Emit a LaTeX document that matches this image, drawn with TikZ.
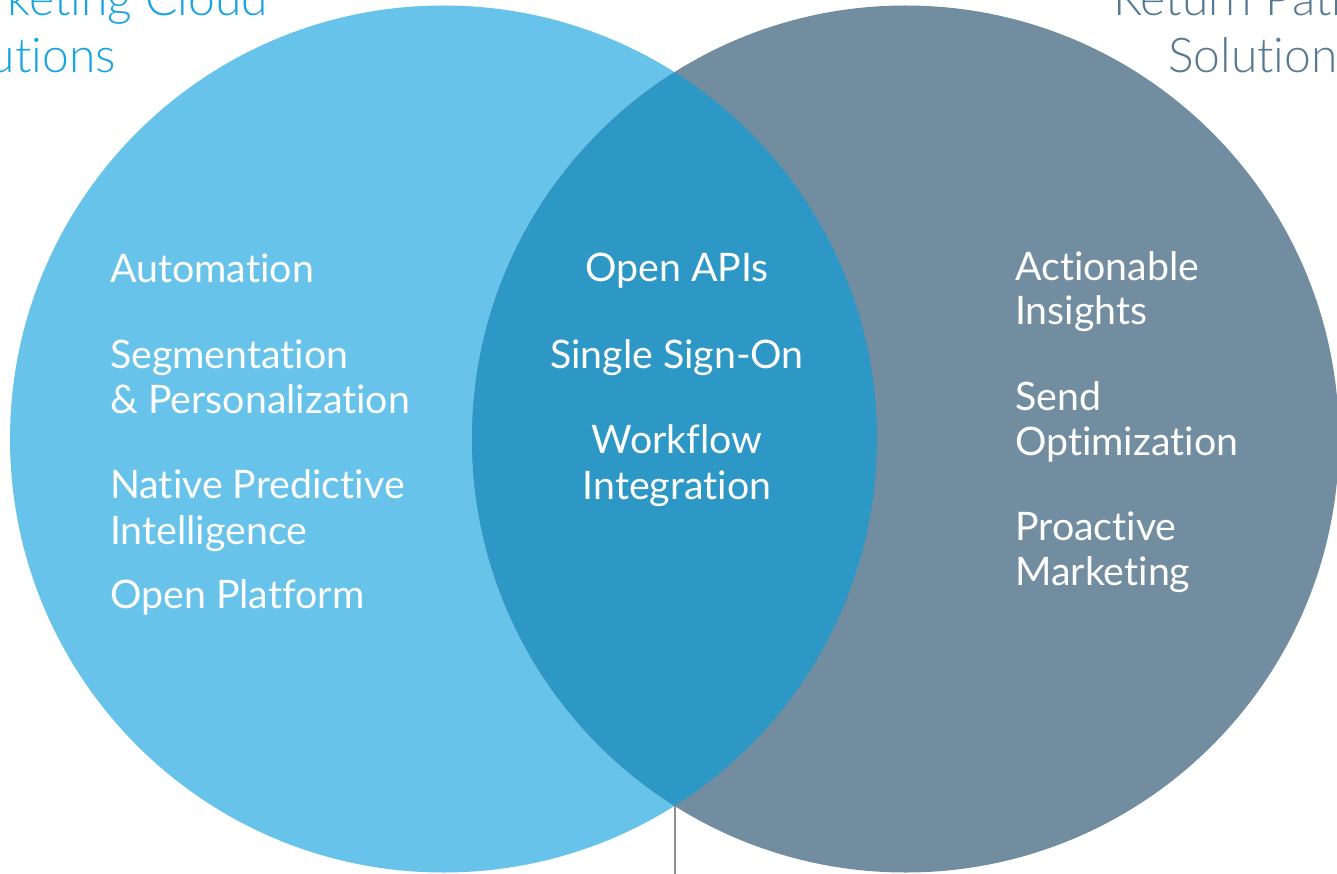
\documentclass[tikz,border=0pt]{standalone}
\usepackage{fontspec}
\setmainfont{Lato}[Ligatures={NoCommon,NoRare}]
\newfontfamily\titlefont{Lato}[UprightFont=* Light,Ligatures={NoCommon,NoRare}]
\begin{document}
\definecolor{mcblue}{HTML}{67C3E9}
\definecolor{lensblue}{HTML}{2D97C5}
\definecolor{rpslate}{HTML}{718D9F}
\definecolor{mctitle}{HTML}{17A4E1}
\definecolor{rptitle}{HTML}{587A91}
\definecolor{stem}{HTML}{8A8F94}
\begin{tikzpicture}[x=1pt,y=-1pt,
  item/.style={anchor=base west,inner sep=0pt,text=white,font=\fontsize{39.3}{45}\selectfont},
  mid/.style={anchor=base,inner sep=0pt,text=white,font=\fontsize{39.3}{45}\selectfont},
  ttl/.style={inner sep=0pt,font=\titlefont\fontsize{48}{57}\selectfont}]
\useasboundingbox (0,0) rectangle (1337,874);
% the two sets
\fill[mcblue] (443.5,439) circle[radius=433.5];
\fill[rpslate] (905.5,439) circle[radius=433.5];
\begin{scope}
  \clip (443.5,439) circle[radius=433.5];
  \fill[lensblue] (905.5,439) circle[radius=433.5];
\end{scope}
% stem below the overlap
\coordinate (lensbot) at (674.5,806);
\coordinate (stemend) at (674.5,874);
\draw[stem,line width=2pt] (lensbot) -- (stemend);
% titles
\node[ttl,anchor=base east,text=mctitle] (mc1) at (268,16) {Marketing Cloud};
\node[ttl,anchor=base east,text=mctitle] (mc2) at (116,73) {Solutions};
\node[ttl,anchor=base west,text=rptitle] (rp1) at (1113,16) {Return Path};
\node[ttl,anchor=base west,text=rptitle] (rp2) at (1168,73) {Solutions};
% left set
\node[item] (l1) at (110,283) {Automation};
\node[item] (l2) at (110,368) {Segmentation};
\node[item] (l3) at (110,413) {\& Personalization};
\node[item] (l4) at (110,498) {Native Predictive};
\node[item] (l5) at (110,544) {Intelligence};
\node[item] (l6) at (110,608) {Open Platform};
% overlap
\node[mid] (m1) at (677,282) {Open APIs};
\node[mid] (m2) at (677,368) {Single Sign-On};
\node[mid] (m3) at (677,453) {Workflow};
\node[mid] (m4) at (677,499) {Integration};
% right set
\node[item] (r1) at (1015,280) {Actionable};
\node[item] (r2) at (1015,324) {Insights};
\node[item] (r3) at (1015,410) {Send};
\node[item] (r4) at (1015,455) {Optimization};
\node[item] (r5) at (1015,540) {Proactive};
\node[item] (r6) at (1015,585) {Marketing};
\end{tikzpicture}
\end{document}
